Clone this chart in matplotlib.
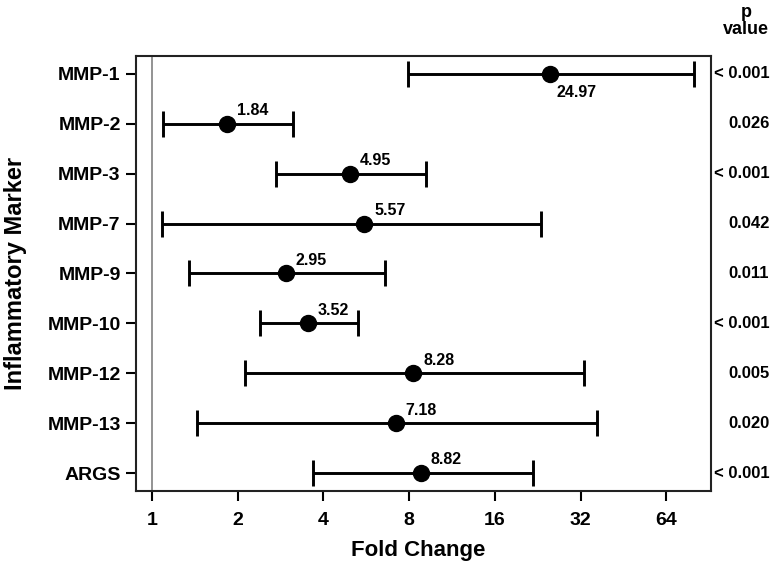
import numpy as np
import matplotlib.pyplot as plt
from matplotlib.ticker import FixedLocator, FixedFormatter, NullLocator

plt.rcParams['font.family'] = ['Liberation Sans', 'DejaVu Sans']
plt.rcParams['font.weight'] = 'bold'

markers = ['MMP-1', 'MMP-2', 'MMP-3', 'MMP-7', 'MMP-9', 'MMP-10', 'MMP-12', 'MMP-13', 'ARGS']
fold = [24.97, 1.84, 4.95, 5.57, 2.95, 3.52, 8.28, 7.18, 8.82]
lower = [7.9, 1.09, 2.72, 1.08, 1.35, 2.39, 2.12, 1.44, 3.67]
upper = [80.0, 3.12, 9.2, 23.3, 6.6, 5.3, 33.0, 36.5, 21.7]
pvals = ['< 0.001', '0.026', '< 0.001', '0.042', '0.011', '< 0.001', '0.005', '0.020', '< 0.001']
xticks = [1, 2, 4, 8, 16, 32, 64]

fold = np.array(fold)
lower = np.array(lower)
upper = np.array(upper)
ypos = np.arange(1, len(markers) + 1)

fig = plt.figure(figsize=(7.74, 5.68), dpi=100)
ax = fig.add_axes([0.1757, 0.1356, 0.9186 - 0.1757, 0.9014 - 0.1356])

ax.axvline(1, color='#8a8a8a', lw=1.3, zorder=1)
ax.errorbar(fold, ypos, xerr=[fold - lower, upper - fold], fmt='o', color='black',
            ms=11.5, lw=2.1, capsize=9.5, capthick=2.1, zorder=3)

for i, (v, y) in enumerate(zip(fold, ypos)):
    if i == 0:
        ax.annotate(f'{v:.2f}', (v, y), xytext=(5, -8), textcoords='offset points',
                    ha='left', va='top', fontsize=11.5, fontweight='bold')
    else:
        ax.annotate(f'{v:.2f}', (v, y), xytext=(7, 4), textcoords='offset points',
                    ha='left', va='bottom', fontsize=11.5, fontweight='bold')

# p-value column on the right
for p, y in zip(pvals, ypos):
    ax.annotate(p, (1.0, y), xycoords=('axes fraction', 'data'), xytext=(42, 0),
                textcoords='offset points', ha='right', va='center',
                fontsize=12, fontweight='bold', annotation_clip=False)
fig.text(746 / 774, 1 - 21 / 568, 'p\nvalue', ha='center', va='center',
         fontsize=13, fontweight='bold', linespacing=0.95)

ax.set_xscale('log', base=2)
ax.set_xlim(0.878, 91.9)
ax.set_ylim(9.36, 0.64)
ax.xaxis.set_major_locator(FixedLocator(xticks))
ax.xaxis.set_major_formatter(FixedFormatter([str(t) for t in xticks]))
ax.xaxis.set_minor_locator(NullLocator())
ax.set_yticks(ypos)
ax.set_yticklabels(markers)

ax.tick_params(axis='both', length=7, width=1.5, labelsize=14, colors='black')
ax.tick_params(axis='x', pad=8)
ax.tick_params(axis='y', pad=4)
for lab in ax.get_xticklabels() + ax.get_yticklabels():
    lab.set_fontweight('bold')
for s in ax.spines.values():
    s.set_linewidth(1.5)
    s.set_color('#222222')

ax.set_xlabel('Fold Change', fontsize=16, fontweight='bold')
ax.set_ylabel('Inflammatory Marker', fontsize=17, fontweight='bold')
ax.xaxis.set_label_coords(0.49, -0.112)
ax.yaxis.set_label_coords(-0.19, 0.50)

fig.savefig('out.png', dpi=100)
